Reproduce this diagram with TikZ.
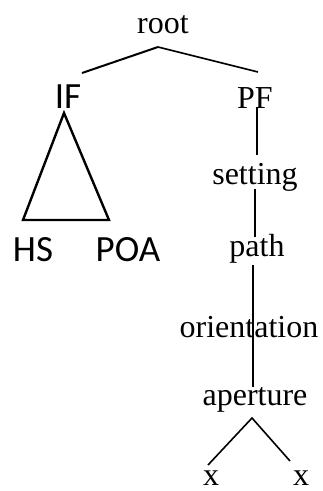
\documentclass[tikz,border=0pt]{standalone}
\usepackage{fontspec}
\setmainfont{Liberation Serif}
\newfontfamily\carl{Carlito}
\begin{document}
\begin{tikzpicture}[x=1pt,y=-1pt,
  ser/.style={inner sep=0pt,anchor=base,font=\fontsize{32}{36}\selectfont},
  san/.style={inner sep=0pt,anchor=base,font=\carl\fontsize{37}{40}\selectfont},
  edge/.style={line width=1.6pt},
  tri/.style={line width=2.4pt,line join=miter}]
\useasboundingbox (0,0) rectangle (322,491);
% nodes
\node[ser] (root) at (163,33) {root};
\node[san] (IF) at (68,108) {IF};
\node[ser] (PF) at (255,108) {PF};
\node[ser] (setting) at (255,184) {setting};
\node[ser] (path) at (257,256) {path};
\node[ser] (orient) at (249,337) {orientation};
\node[ser] (aper) at (255,405) {aperture};
\node[ser] (x1) at (211,485) {x};
\node[ser] (x2) at (301,485) {x};
\node[san] (HS) at (33,261) {HS};
\node[san] (POA) at (128,261) {POA};
% connector ends
\coordinate (rootTop) at (158,47);
\coordinate (IFend) at (82,73);
\coordinate (PFend) at (258,72);
\coordinate (PFbot) at (257,107);
\coordinate (setTop) at (257,155);
\coordinate (setBot) at (255,189);
\coordinate (pathTop) at (255,237);
\coordinate (pathBot) at (253,265);
\coordinate (aperTop) at (253,387);
\coordinate (aperBot) at (252,418);
\coordinate (x1Top) at (208,465);
\coordinate (x2Top) at (290,461);
\coordinate (triA) at (64,113);
\coordinate (triL) at (23,220);
\coordinate (triR) at (109,220);
% connectors
\draw[edge,line width=2pt] (rootTop) -- (IFend);
\draw[edge] (rootTop) -- (PFend);
\draw[edge] (PFbot) -- (setTop);
\draw[edge] (setBot) -- (pathTop);
\draw[edge] (pathBot) -- (aperTop);
\draw[edge] (x1Top) -- (aperBot) -- (x2Top);
\draw[tri] (triA) -- (triL) -- (triR) -- cycle;
\end{tikzpicture}
\end{document}
